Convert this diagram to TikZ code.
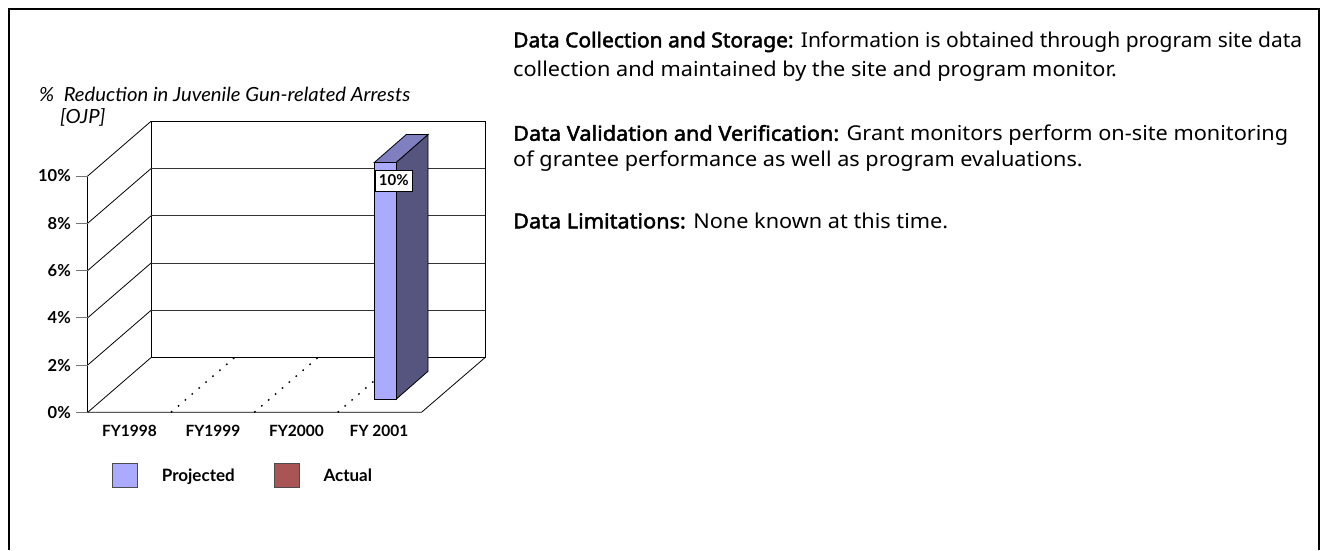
\documentclass[tikz,border=0pt]{standalone}
\usepackage{fontspec}
\usepackage{graphicx}
\setmainfont{Noto Sans}[BoldFont={Noto Sans}, BoldFeatures={FakeBold=2.2}]
\newfontfamily\chartfont{Lato}
\definecolor{projfront}{RGB}{170,170,255}
\definecolor{projside}{RGB}{85,85,128}
\definecolor{projtop}{RGB}{128,128,192}
\definecolor{actualc}{RGB}{170,85,85}
\newcommand\rtfont{\fontsize{20.5}{24}\selectfont}
\newsavebox\lthreebox
\newsavebox\titlebox
\newlength\lthreew
\newlength\titlew
\begin{document}
\sbox\lthreebox{\rtfont\textbf{Data Validation and Verification:} Grant monitors perform on-site monitoring}%
\setlength\lthreew{\wd\lthreebox}%
\pgfmathsetmacro\sx{775/\lthreew}%
\sbox\titlebox{\chartfont\itshape\fontsize{19.5}{22}\selectfont\%\ \ Reduction in Juvenile Gun-related Arrests}%
\setlength\titlew{\wd\titlebox}%
\pgfmathsetmacro\tx{371/\titlew}%
\begin{tikzpicture}[x=1pt,y=-1pt,
  frame/.style={line width=2pt},
  axisline/.style={line width=0.8pt},
  gridline/.style={line width=0.8pt, black!80},
  tickmark/.style={line width=0.8pt, black!55},
  ticklbl/.style={font=\chartfont\fontsize{16.5}{18}\selectfont\bfseries, anchor=east, inner sep=0},
  catlbl/.style={font=\chartfont\fontsize{15.5}{17}\selectfont\bfseries, anchor=base, inner sep=0},
  leglbl/.style={font=\chartfont\fontsize{17}{19}\selectfont\bfseries, anchor=base west, inner sep=0},
  floordot/.style={line width=1.4pt, dash pattern=on 1.6pt off 7.5pt},
  legbox/.style={draw=black!70, line width=0.8pt},
  barface/.style={draw=black, line width=0.8pt},
  rtext/.style={anchor=base west, inner sep=0, font=\rtfont},
]
\useasboundingbox (0,0) rectangle (1320,550);
% outer frame (open at the bottom)
\draw[frame] (9,550) -- (9,8.5) -- (1319,8.5) -- (1319,550);

% ---- right text ----
\node[rtext] (dc1) at (513,47.3) {\resizebox{789pt}{\height}{\textbf{Data Collection and Storage:} Information is obtained through program site data}};
\node[rtext] (dc2) at (513,76.7) {\scalebox{\sx}[1]{collection and maintained by the site and program monitor.}};
\node[rtext] (dv1) at (513,140.7) {\scalebox{\sx}[1]{\usebox\lthreebox}};
\node[rtext] (dv2) at (513,166.7) {\scalebox{\sx}[1]{of grantee performance as well as program evaluations.}};
\node[rtext] (dl) at (513,228.3) {\scalebox{\sx}[1]{\textbf{Data Limitations:} None known at this time.}};

% ---- chart title ----
\node[anchor=base west, inner sep=0] (t1) at (39,101) {\scalebox{\tx}[1]{\usebox\titlebox}};
\node[anchor=base west, inner sep=0] (t2) at (60,123) {\scalebox{\tx}[1]{\chartfont\itshape\fontsize{19.5}{22}\selectfont[OJP]}};

% ---- chart geometry ----
\coordinate (F0) at (87.7,412.3);
\coordinate (B0) at (151,357.6);
\coordinate (FR) at (421.5,412.3);
\coordinate (BR) at (485,357.6);
\coordinate (BT) at (151,121.3);
\coordinate (BTR) at (485,121.3);
% back wall
\draw[axisline] (BT) rectangle (BR);
\foreach \i in {1,2,3,4} {
  \draw[gridline] (151,357.6-47.26*\i) -- (485,357.6-47.26*\i);
}
% left wall: axis, diagonals, ticks, labels
\draw[axisline] (87.7,176) -- (F0);
\foreach \i/\lab in {0/0\%,1/2\%,2/4\%,3/6\%,4/8\%,5/10\%} {
  \draw[axisline] (87.7,412.3-47.26*\i) -- (151,357.6-47.26*\i);
  \draw[tickmark] (76,412.3-47.26*\i) -- (87.7,412.3-47.26*\i);
  \node[ticklbl] (y\i) at (71,412.3-47.26*\i) {\lab};
}
% floor
\draw[axisline] (F0) -- (FR) -- (BR);
% dotted zero-value markers
\foreach \xx in {171,254.3,337.7} {
  \draw[floordot] (\xx,412.3) -- ++(63.5,-54.7);
}
% bar FY 2001
\coordinate (bfl) at (374.3,162.5);
\coordinate (bfr) at (396,162.5);
\coordinate (bbl) at (374.3,399.3);
\coordinate (bbr) at (396,399.3);
\coordinate (btr) at (428,134.5);
\coordinate (btl) at (406.3,134.5);
\coordinate (bsr) at (428,371.3);
\draw[barface, fill=projside] (bfr) -- (btr) -- (bsr) -- (bbr) -- cycle;
\draw[barface, fill=projtop] (bfl) -- (bfr) -- (btr) -- (btl) -- cycle;
\draw[barface, fill=projfront] (bfl) rectangle (bbr);
\node[draw=black, fill=white, line width=0.6pt, inner sep=0, minimum width=37pt, minimum height=21pt,
  font=\chartfont\fontsize{15}{17}\selectfont\bfseries] (vlab) at (393.7,180.5) {10\%};

% category labels
\node[catlbl] (c1) at (129.5,436) {FY1998};
\node[catlbl] (c2) at (213,436) {FY1999};
\node[catlbl] (c3) at (296.5,436) {FY2000};
\node[catlbl] (c4) at (379,436) {FY 2001};

% legend
\node[legbox, fill=projfront, minimum width=25pt, minimum height=24pt, inner sep=0] (lp) at (125,475.7) {};
\node[leglbl] (lpt) at (161.7,481.5) {Projected};
\node[legbox, fill=actualc, minimum width=25pt, minimum height=24pt, inner sep=0] (la) at (286.8,475.7) {};
\node[leglbl] (lat) at (323.3,481.5) {Actual};
\end{tikzpicture}
\end{document}
